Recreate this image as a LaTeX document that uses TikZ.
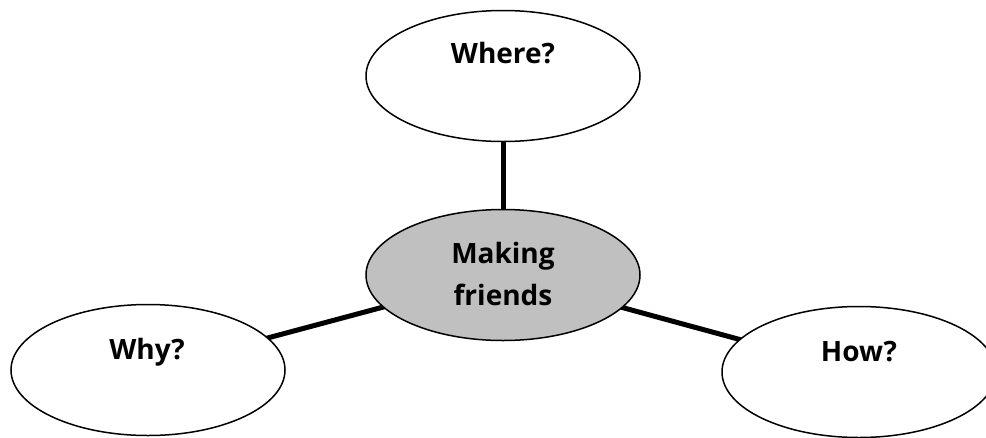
\documentclass[tikz,border=0pt]{standalone}
\usepackage{fontspec}
\setmainfont{Open Sans}
\usetikzlibrary{shapes.geometric}
\tikzset{
  bubble/.style={ellipse, draw=black, line width=1.5pt, fill=white, minimum width=274pt, minimum height=131pt, inner sep=0pt},
  core/.style={bubble, fill=silver},
  link/.style={line width=5pt, draw=black},
  word/.style={font=\bfseries\fontsize{28}{42}\selectfont, align=center, text=black}
}
\definecolor{silver}{RGB}{192,192,192}
\begin{document}
\begin{tikzpicture}[x=1pt, y=-1pt]
\useasboundingbox (0,0) rectangle (986,437);
\clip (0,0) rectangle (986,437);
\fill[white] (0,0) rectangle (986,437);
\coordinate (cc) at (503,275);
\coordinate (wc) at (503,76);
\coordinate (yc) at (148,370);
\coordinate (hc) at (859,372);
\draw[link] (cc) -- (wc);
\draw[link] (cc) -- (yc);
\draw[link] (cc) -- (hc);
\node[core] (centre) at (cc) {};
\node[bubble] (where) at (wc) {};
\node[bubble] (why) at (yc) {};
\node[bubble] (how) at (hc) {};
\node[word] (t1) at (503,274) {Making\\friends};
\node[word] (t2) at (503,53) {Where?};
\node[word] (t3) at (147,352) {Why?};
\node[word] (t4) at (859,352) {How?};
\end{tikzpicture}
\end{document}
